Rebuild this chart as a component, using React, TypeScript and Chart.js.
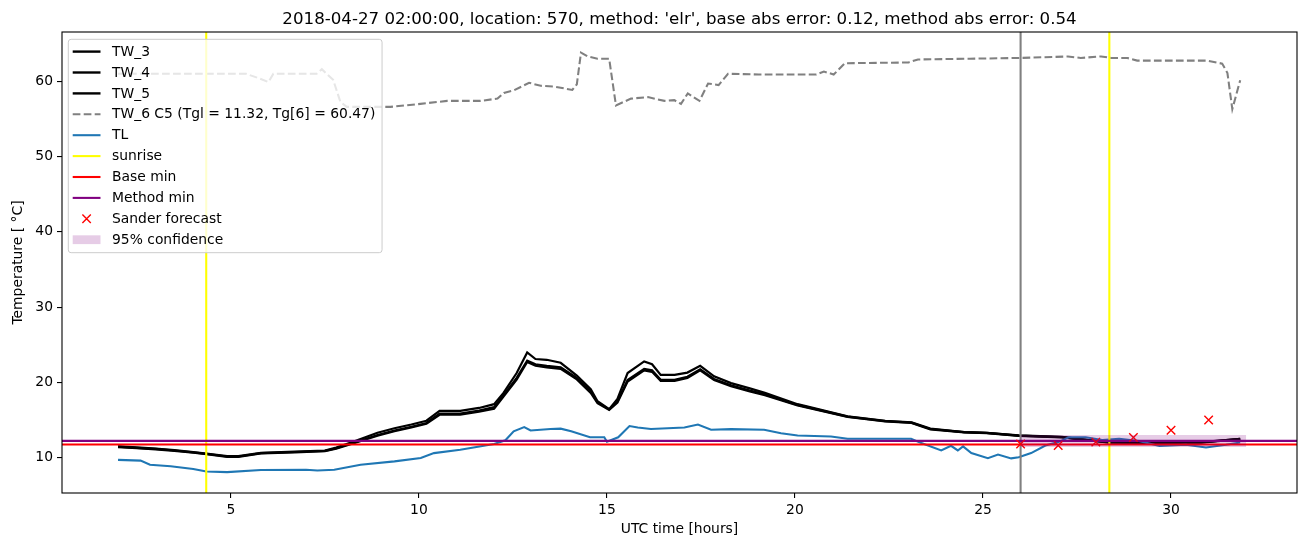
import React, { useEffect, useRef } from 'react';
import { Chart, registerables } from 'chart.js';
Chart.register(...registerables);

const FONT = '"DejaVu Sans", sans-serif';

const titleText = "2018-04-27 02:00:00, location: 570, method: 'elr', base abs error: 0.12, method abs error: 0.54";
const xLabel = 'UTC time [hours]';
const yLabel = 'Temperature [ \u00B0C]';

const xLimits = [0.51, 33.35];
const yLimits = [5.3, 66.55];
const xTicks = [5, 10, 15, 20, 25, 30];
const yTicks = [10, 20, 30, 40, 50, 60];

const twX = [2.0, 2.5, 3.0, 3.5, 4.0, 4.35, 4.9, 5.2, 5.8, 6.7, 7.5, 7.8, 8.25, 8.9, 9.35, 9.8, 10.2, 10.55, 11.1, 11.6, 12.0, 12.25, 12.6, 12.88, 13.1, 13.4, 13.77, 14.2, 14.57, 14.75, 15.06, 15.28, 15.55, 15.99, 16.2, 16.43, 16.8, 17.14, 17.48, 17.85, 18.3, 18.8, 19.2, 20.07, 21.4, 22.4, 23.1, 23.6, 24.5, 25.1, 25.95, 27.1, 27.7, 28.35, 29.5, 30.8, 31.84];
const tw3 = [11.5, 11.35, 11.2, 11.0, 10.75, 10.55, 10.2, 10.2, 10.65, 10.8, 10.95, 11.35, 12.1, 13.3, 13.9, 14.4, 14.9, 16.2, 16.2, 16.6, 17.1, 18.6, 21.24, 23.98, 23.1, 23.0, 22.6, 20.9, 19.1, 17.5, 16.45, 17.8, 21.24, 22.78, 22.4, 21.0, 21.0, 21.3, 22.2, 20.8, 19.9, 19.2, 18.6, 17.1, 15.5, 14.9, 14.7, 13.85, 13.4, 13.3, 12.95, 12.75, 12.4, 12.05, 12.0, 12.05, 12.5];
const tw4 = [11.4, 11.25, 11.1, 10.9, 10.65, 10.45, 10.1, 10.1, 10.55, 10.7, 10.85, 11.2, 11.9, 12.9, 13.5, 14.0, 14.5, 15.7, 15.7, 16.1, 16.5, 18.1, 20.35, 22.7, 22.2, 22.0, 21.8, 20.4, 18.6, 17.25, 16.35, 17.3, 20.1, 21.6, 21.4, 20.2, 20.2, 20.6, 21.6, 20.3, 19.5, 18.8, 18.3, 16.95, 15.4, 14.8, 14.6, 13.75, 13.35, 13.25, 12.9, 12.7, 12.35, 12.0, 11.95, 12.0, 12.45];
const tw5 = [11.45, 11.3, 11.15, 10.95, 10.7, 10.5, 10.15, 10.15, 10.6, 10.75, 10.9, 11.25, 11.95, 13.0, 13.6, 14.1, 14.6, 15.85, 15.85, 16.25, 16.7, 18.3, 20.6, 22.9, 22.4, 22.2, 22.0, 20.6, 18.8, 17.35, 16.4, 17.45, 20.3, 21.8, 21.6, 20.35, 20.35, 20.75, 21.75, 20.45, 19.6, 18.9, 18.4, 17.0, 15.45, 14.85, 14.65, 13.8, 13.38, 13.28, 12.92, 12.72, 12.38, 12.02, 11.98, 12.02, 12.48];

const tw6X = [2.0, 5.4, 5.75, 6.0, 6.13, 7.28, 7.42, 7.72, 7.91, 8.08, 9.24, 10.04, 10.75, 11.64, 12.09, 12.26, 12.53, 12.93, 13.24, 13.6, 14.08, 14.2, 14.31, 14.49, 14.75, 15.06, 15.24, 15.64, 16.09, 16.53, 16.79, 16.97, 17.15, 17.46, 17.69, 17.97, 18.22, 19.04, 20.57, 20.77, 21.03, 21.33, 23.02, 23.27, 24.65, 25.95, 27.26, 27.6, 28.14, 28.41, 28.84, 29.1, 30.96, 31.36, 31.5, 31.63, 31.84];
const tw6 = [61.0, 61.0, 60.4, 59.9, 61.0, 61.0, 61.6, 60.2, 57.3, 56.6, 56.6, 57.0, 57.4, 57.4, 57.7, 58.45, 58.8, 59.8, 59.4, 59.3, 58.85, 59.6, 63.8, 63.3, 63.0, 63.0, 56.8, 57.7, 57.9, 57.4, 57.5, 57.0, 58.4, 57.4, 59.7, 59.5, 61.0, 60.9, 60.9, 61.3, 60.9, 62.4, 62.5, 62.9, 63.0, 63.1, 63.3, 63.1, 63.3, 63.1, 63.1, 62.75, 62.75, 62.35, 61.1, 56.3, 60.15];

const tlX = [2.0, 2.6, 2.85, 3.4, 4.0, 4.35, 4.9, 5.8, 7.0, 7.3, 7.75, 8.45, 9.35, 10.05, 10.4, 11.1, 12.0, 12.3, 12.52, 12.8, 12.97, 13.5, 13.77, 14.05, 14.55, 14.93, 15.0, 15.3, 15.6, 15.82, 16.17, 17.06, 17.42, 17.77, 18.3, 19.18, 19.63, 20.07, 20.96, 21.4, 23.09, 23.36, 23.89, 24.15, 24.33, 24.47, 24.69, 25.13, 25.4, 25.75, 25.95, 26.28, 26.66, 27.02, 27.28, 27.73, 28.17, 28.62, 29.15, 29.69, 30.4, 30.93, 31.46, 31.84];
const tl = [9.7, 9.6, 9.05, 8.85, 8.5, 8.15, 8.07, 8.35, 8.38, 8.3, 8.4, 9.05, 9.5, 9.95, 10.6, 11.05, 11.8, 12.3, 13.5, 14.05, 13.6, 13.8, 13.85, 13.5, 12.7, 12.7, 12.1, 12.7, 14.2, 14.0, 13.8, 14.0, 14.4, 13.7, 13.79, 13.7, 13.25, 12.94, 12.8, 12.5, 12.5, 11.93, 10.95, 11.57, 10.95, 11.5, 10.6, 9.93, 10.4, 9.9, 10.05, 10.6, 11.6, 12.1, 12.7, 12.7, 12.35, 12.5, 12.2, 11.55, 11.7, 11.35, 11.7, 12.0];

const sunriseTimes = [4.345, 28.36];
const forecastTime = 26.0;
const baseMin = 11.74;
const methodMin = 12.23;

const forecastX = [26, 27, 28, 29, 30, 31];
const forecastY = [11.8, 11.6, 12.06, 12.67, 13.65, 15.0];

const confX = [26, 32];
const confLow = [11.4, 11.4];
const confHigh = [13.0, 13.0];

const legendLabels = ['TW_3', 'TW_4', 'TW_5', 'TW_6 C5 (Tgl = 11.32, Tg[6] = 60.47)', 'TL', 'sunrise', 'Base min', 'Method min', 'Sander forecast', '95% confidence'];

const C_BLUE = '#1f77b4';
const C_GRAY = '#808080';
const C_YELLOW = '#ffff00';
const C_RED = '#ff0000';
const C_PURPLE = '#800080';
const C_CONF = 'rgba(128,0,128,0.2)';
const LW = 2.08;
const DASH = [7.7, 3.3];

const pts = (xs: number[], ys: number[]) => xs.map((x, i) => ({ x, y: ys[i] }));

function vlines(xs: number[]) {
  const out: any[] = [];
  xs.forEach((x, i) => {
    if (i > 0) out.push({ x, y: null });
    out.push({ x, y: yLimits[0] });
    out.push({ x, y: yLimits[1] });
  });
  return out;
}
const hline = (y: number) => [{ x: xLimits[0], y }, { x: xLimits[1], y }];

const decorPlugin = {
  id: 'decor',
  afterDraw(chart: any) {
    const ctx = chart.ctx;
    const a = chart.chartArea;
    ctx.save();
    // spines
    ctx.strokeStyle = '#000';
    ctx.lineWidth = 1.1;
    ctx.strokeRect(a.left, a.top, a.right - a.left, a.bottom - a.top);
    // title
    ctx.fillStyle = '#000';
    ctx.textAlign = 'center';
    ctx.textBaseline = 'alphabetic';
    ctx.font = `16.67px ${FONT}`;
    ctx.fillText(titleText, (a.left + a.right) / 2, 24);
    // axis labels
    ctx.font = `13.89px ${FONT}`;
    ctx.textBaseline = 'middle';
    ctx.fillText(xLabel, (a.left + a.right) / 2, 529);
    ctx.save();
    ctx.translate(18, (a.top + a.bottom) / 2);
    ctx.rotate(-Math.PI / 2);
    ctx.fillText(yLabel, 0, 0);
    ctx.restore();

    // legend
    ctx.font = `13.89px ${FONT}`;
    const textX = 112;
    let maxW = 0;
    legendLabels.forEach((l) => { maxW = Math.max(maxW, ctx.measureText(l).width); });
    const bx = 68.3, by = 39.3, bw = textX + maxW + 6.7 - bx, bh = 213.4;
    const r = 2.8;
    ctx.beginPath();
    ctx.moveTo(bx + r, by);
    ctx.lineTo(bx + bw - r, by);
    ctx.arcTo(bx + bw, by, bx + bw, by + r, r);
    ctx.lineTo(bx + bw, by + bh - r);
    ctx.arcTo(bx + bw, by + bh, bx + bw - r, by + bh, r);
    ctx.lineTo(bx + r, by + bh);
    ctx.arcTo(bx, by + bh, bx, by + bh - r, r);
    ctx.lineTo(bx, by + r);
    ctx.arcTo(bx, by, bx + r, by, r);
    ctx.closePath();
    ctx.fillStyle = 'rgba(255,255,255,0.8)';
    ctx.fill();
    ctx.strokeStyle = '#cccccc';
    ctx.lineWidth = 1;
    ctx.stroke();

    const hx0 = 72.7, hx1 = 100.5;
    const handles: any[] = [
      { c: '#000', w: 2.4 }, { c: '#000', w: 2.4 }, { c: '#000', w: 2.4 },
      { c: C_GRAY, w: LW, dash: DASH }, { c: C_BLUE, w: LW }, { c: C_YELLOW, w: LW },
      { c: C_RED, w: LW }, { c: C_PURPLE, w: LW }, { marker: true }, { patch: true },
    ];
    legendLabels.forEach((label, i) => {
      const y = 51.6 + i * 20.9;
      const h = handles[i];
      if (h.patch) {
        ctx.fillStyle = C_CONF;
        ctx.fillRect(hx0, y - 4.4, hx1 - hx0, 8.8);
      } else if (h.marker) {
        const cx = (hx0 + hx1) / 2, s = 4.2;
        ctx.strokeStyle = C_RED;
        ctx.lineWidth = 1.4;
        ctx.setLineDash([]);
        ctx.beginPath();
        ctx.moveTo(cx - s, y - s); ctx.lineTo(cx + s, y + s);
        ctx.moveTo(cx - s, y + s); ctx.lineTo(cx + s, y - s);
        ctx.stroke();
      } else {
        ctx.strokeStyle = h.c;
        ctx.lineWidth = h.w;
        ctx.setLineDash(h.dash || []);
        ctx.beginPath();
        ctx.moveTo(hx0, y); ctx.lineTo(hx1, y);
        ctx.stroke();
        ctx.setLineDash([]);
      }
      ctx.fillStyle = '#000';
      ctx.textAlign = 'left';
      ctx.textBaseline = 'middle';
      ctx.fillText(label, textX, y + 0.5);
    });
    ctx.restore();
  },
};

export default function App() {
  const ref = useRef<HTMLCanvasElement>(null);
  useEffect(() => {
    const line = (label: string, data: any[], color: string, extra: any = {}) => ({
      type: 'line', label, data, borderColor: color, backgroundColor: color,
      borderWidth: LW, pointRadius: 0, tension: 0, fill: false, spanGaps: false, ...extra,
    });
    const dsList: any[] = [
      line('TW_3', pts(twX, tw3), '#000', { borderWidth: 2.2 }),
      line('TW_4', pts(twX, tw4), '#000', { borderWidth: 2.2 }),
      line('TW_5', pts(twX, tw5), '#000', { borderWidth: 2.2 }),
      line('TW_6', pts(tw6X, tw6), C_GRAY, { borderDash: DASH }),
      line('TL', pts(tlX, tl), C_BLUE),
      line('sunrise', vlines(sunriseTimes), C_YELLOW),
      line('forecast time', vlines([forecastTime]), C_GRAY),
      line('Base min', hline(baseMin), C_RED),
      line('Method min', hline(methodMin), C_PURPLE),
      line('Sander forecast', pts(forecastX, forecastY), C_RED, {
        showLine: false, pointRadius: 6, pointStyle: 'crossRot', pointBorderWidth: 1.4, pointBorderColor: C_RED,
      }),
      line('conf low', pts(confX, confLow), 'rgba(0,0,0,0)', { borderWidth: 0 }),
      line('95% confidence', pts(confX, confHigh), 'rgba(0,0,0,0)', { borderWidth: 0, fill: '-1', backgroundColor: C_CONF }),
    ];
    dsList.forEach((d, i) => { d.order = -i; });

    const font = { family: FONT, size: 13.89 };
    const chart = new Chart(ref.current as HTMLCanvasElement, {
      type: 'line',
      data: { datasets: dsList },
      plugins: [decorPlugin],
      options: {
        responsive: false,
        animation: false,
        devicePixelRatio: 1,
        layout: { padding: { top: 32, right: 13, left: 0, bottom: 0 } },
        plugins: { legend: { display: false }, title: { display: false }, tooltip: { enabled: false } },
        events: [],
        scales: {
          x: {
            type: 'linear', min: xLimits[0], max: xLimits[1],
            afterFit: (s: any) => { s.height = 54; },
            afterBuildTicks: (s: any) => { s.ticks = xTicks.map((v) => ({ value: v })); },
            ticks: { font, color: '#000', padding: 4, maxRotation: 0, autoSkip: false, callback: (v: any) => String(v) },
            grid: { display: true, drawOnChartArea: false, drawTicks: true, tickLength: 5, color: '#000', lineWidth: 1.1 },
            border: { display: false },
          },
          y: {
            type: 'linear', min: yLimits[0], max: yLimits[1],
            afterFit: (s: any) => { s.width = 62; },
            afterBuildTicks: (s: any) => { s.ticks = yTicks.map((v) => ({ value: v })); },
            ticks: { font, color: '#000', padding: 4, callback: (v: any) => String(v) },
            grid: { display: true, drawOnChartArea: false, drawTicks: true, tickLength: 5, color: '#000', lineWidth: 1.1 },
            border: { display: false },
          },
        },
      } as any,
    } as any);
    return () => chart.destroy();
  }, []);
  return (
    <div style={{ position: 'fixed', left: 0, top: 0, width: 1310, height: 547, background: '#fff' }}>
      <canvas ref={ref} width={1310} height={547} style={{ width: 1310, height: 547, display: 'block' }} />
    </div>
  );
}
